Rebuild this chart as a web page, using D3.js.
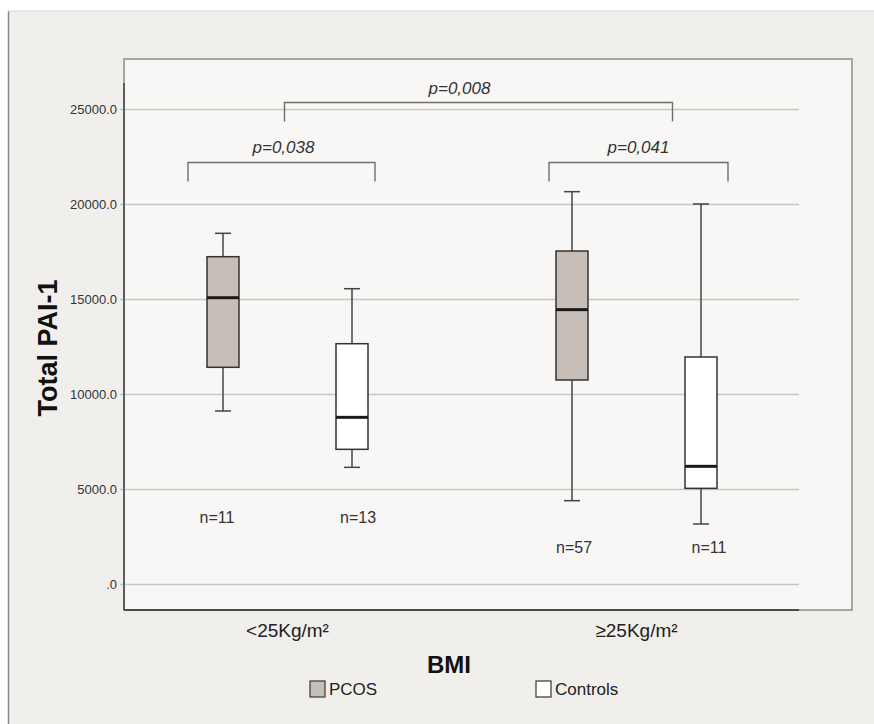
<!DOCTYPE html>
<html>
<head>
<meta charset="utf-8">
<script src="https://cdn.jsdelivr.net/npm/d3@7"></script>
<style>
  html, body { margin: 0; padding: 0; background: #ffffff; }
  svg { display: block; font-family: "Liberation Sans", Arial, sans-serif; }
</style>
</head>
<body>
<svg id="chart" width="874" height="724"></svg>
<script>
// BMI categories and study groups
const categories = ["<25Kg/m²", "≥25Kg/m²"];
const groups = ["PCOS", "Controls"];

// Box statistics per category: [min whisker, Q1, median, Q3, max whisker]
const pcosStats = [
  [9105, 11405, 15068, 17226, 18458],
  [4386, 10737, 14439, 17526, 20649]
];
const controlStats = [
  [6140, 7088, 8772, 12647, 15542],
  [3158, 5035, 6193, 11947, 20000]
];

// Sample sizes per category
const pcosN = [11, 57];
const controlN = [13, 11];

// Y axis ticks and their labels
const yTicks = [0, 5000, 10000, 15000, 20000, 25000];
const yTickLabels = [".0", "5000.0", "10000.0", "15000.0", "20000.0", "25000.0"];

// Pairwise comparisons: [from category, from group, to category, to group, label]
const comparisons = [
  ["<25Kg/m²", "PCOS", "<25Kg/m²", "Controls", "p=0,038"],
  ["≥25Kg/m²", "PCOS", "≥25Kg/m²", "Controls", "p=0,041"],
  ["<25Kg/m²", "mid", "≥25Kg/m²", "mid", "p=0,008"]
];

const statsByGroup = { PCOS: pcosStats, Controls: controlStats };
const nByGroup = { PCOS: pcosN, Controls: controlN };
const fillByGroup = { PCOS: "#c7beb8", Controls: "#ffffff" };

const svg = d3.select("#chart");

// Panel background
svg.append("rect").attr("x", 8).attr("y", 11).attr("width", 866).attr("height", 713)
  .attr("fill", "#f1efec");
svg.append("line").attr("x1", 8.5).attr("x2", 8.5).attr("y1", 11).attr("y2", 724)
  .attr("stroke", "#8a8886").attr("stroke-width", 1.5);
svg.append("line").attr("x1", 8).attr("x2", 874).attr("y1", 11).attr("y2", 11)
  .attr("stroke", "#dcdad7").attr("stroke-width", 1);

// Plot frame
const frame = { left: 124, top: 59, right: 852, bottom: 610, gridRight: 799 };
svg.append("rect")
  .attr("x", frame.left).attr("y", frame.top)
  .attr("width", frame.right - frame.left).attr("height", frame.bottom - frame.top)
  .attr("fill", "#f8f7f5").attr("stroke", "#8c8c8c").attr("stroke-width", 1.5);

// Scales
const y = d3.scaleLinear().domain([0, 25000]).range([584, 109]);
const x = d3.scaleBand().domain(categories).range([113, 811]).padding(0);
const xSub = d3.scalePoint().domain(groups).range([-64.5, 64.5]);
const cx = (cat, g) => x(cat) + x.bandwidth() / 2 + (g === "mid" ? 0 : xSub(g));

// Y axis with gridlines
const yAxis = d3.axisLeft(y)
  .tickValues(yTicks)
  .tickFormat((d, i) => yTickLabels[i])
  .tickSize(-(frame.gridRight - 120))
  .tickPadding(3);
const gy = svg.append("g").attr("transform", "translate(120,0)").call(yAxis);
gy.select(".domain").remove();
gy.selectAll(".tick line").attr("stroke", "#c6c6c4").attr("stroke-width", 1.6);
gy.selectAll(".tick text").attr("fill", "#333").attr("font-size", 13)
  .attr("font-family", "Liberation Sans, Arial, sans-serif");

// Axis lines
svg.append("line").attr("x1", frame.left).attr("x2", frame.left)
  .attr("y1", 83).attr("y2", frame.bottom)
  .attr("stroke", "#4a4a4a").attr("stroke-width", 1.6);
svg.append("line").attr("x1", frame.left).attr("x2", frame.gridRight)
  .attr("y1", frame.bottom).attr("y2", frame.bottom)
  .attr("stroke", "#4a4a4a").attr("stroke-width", 2);

// Boxes
const boxW = 32, capW = 16;
const boxData = [];
categories.forEach((cat, ci) => {
  groups.forEach(g => {
    boxData.push({ cat, g, s: statsByGroup[g][ci], n: nByGroup[g][ci], ci });
  });
});

const boxes = svg.append("g").selectAll("g").data(boxData).join("g")
  .attr("transform", d => `translate(${cx(d.cat, d.g)},0)`);

boxes.append("line").attr("x1", 0).attr("x2", 0)
  .attr("y1", d => y(d.s[4])).attr("y2", d => y(d.s[3]))
  .attr("stroke", "#444").attr("stroke-width", 1.5);
boxes.append("line").attr("x1", 0).attr("x2", 0)
  .attr("y1", d => y(d.s[1])).attr("y2", d => y(d.s[0]))
  .attr("stroke", "#444").attr("stroke-width", 1.5);
boxes.append("line").attr("x1", -capW / 2).attr("x2", capW / 2)
  .attr("y1", d => y(d.s[4])).attr("y2", d => y(d.s[4]))
  .attr("stroke", "#444").attr("stroke-width", 1.5);
boxes.append("line").attr("x1", -capW / 2).attr("x2", capW / 2)
  .attr("y1", d => y(d.s[0])).attr("y2", d => y(d.s[0]))
  .attr("stroke", "#444").attr("stroke-width", 1.5);
boxes.append("rect").attr("x", -boxW / 2).attr("width", boxW)
  .attr("y", d => y(d.s[3])).attr("height", d => y(d.s[1]) - y(d.s[3]))
  .attr("fill", d => fillByGroup[d.g]).attr("stroke", "#333").attr("stroke-width", 1.5);
boxes.append("line").attr("x1", -boxW / 2).attr("x2", boxW / 2)
  .attr("y1", d => y(d.s[2])).attr("y2", d => y(d.s[2]))
  .attr("stroke", "#1a1a1a").attr("stroke-width", 3);

// Sample size labels, one row per category below its lowest whisker
const nRowY = [517, 547];
const nDx = [{ PCOS: -6, Controls: 6 }, { PCOS: 2, Controls: 8 }];
boxes.append("text")
  .attr("x", d => nDx[d.ci][d.g])
  .attr("y", d => nRowY[d.ci] + 6)
  .attr("text-anchor", "middle")
  .attr("font-size", 16).attr("fill", "#333")
  .text(d => `n=${d.n}`);

// Significance brackets
const bracketSpec = {
  "p=0,038": { level: 22195, dx1: -35, dx2: 23, textY: 153, textDx: 2 },
  "p=0,041": { level: 22195, dx1: -23, dx2: 27, textY: 153, textDx: 0 },
  "p=0,008": { level: 25352, dx1: -3, dx2: 36, textY: 94, textDx: -19 }
};
const leg = 19;
const br = svg.append("g");
comparisons.forEach(([c1, g1, c2, g2, label]) => {
  const spec = bracketSpec[label];
  const x1 = cx(c1, g1) + spec.dx1;
  const x2 = cx(c2, g2) + spec.dx2;
  const yl = Math.round(y(spec.level)) + 0.5;
  br.append("path")
    .attr("d", `M${x1},${yl + leg}V${yl}H${x2}V${yl + leg}`)
    .attr("fill", "none").attr("stroke", "#6e6e6e").attr("stroke-width", 1.4);
  br.append("text")
    .attr("x", (x1 + x2) / 2 + spec.textDx).attr("y", spec.textY)
    .attr("text-anchor", "middle").attr("font-style", "italic")
    .attr("font-size", 17).attr("fill", "#333")
    .text(label);
});

// Category labels
svg.append("g").selectAll("text").data(categories).join("text")
  .attr("x", d => x(d) + x.bandwidth() / 2)
  .attr("y", 637)
  .attr("text-anchor", "middle")
  .attr("font-size", 19).attr("fill", "#222")
  .text(d => d);

// Axis titles
svg.append("text")
  .attr("transform", "translate(57,348) rotate(-90)")
  .attr("text-anchor", "middle")
  .attr("font-size", 27).attr("font-weight", "bold").attr("fill", "#111")
  .text("Total PAI-1");
svg.append("text")
  .attr("x", 449).attr("y", 673)
  .attr("text-anchor", "middle")
  .attr("font-size", 24).attr("font-weight", "bold").attr("fill", "#111")
  .text("BMI");

// Legend
const legendX = { PCOS: 310, Controls: 536 };
const lg = svg.append("g").selectAll("g").data(groups).join("g")
  .attr("transform", d => `translate(${legendX[d]},681)`);
lg.append("rect").attr("width", 15).attr("height", 16)
  .attr("fill", d => fillByGroup[d]).attr("stroke", "#444").attr("stroke-width", 1.3);
lg.append("text").attr("x", 19).attr("y", 14)
  .attr("font-size", 17).attr("fill", "#222")
  .text(d => d);
</script>
</body>
</html>
